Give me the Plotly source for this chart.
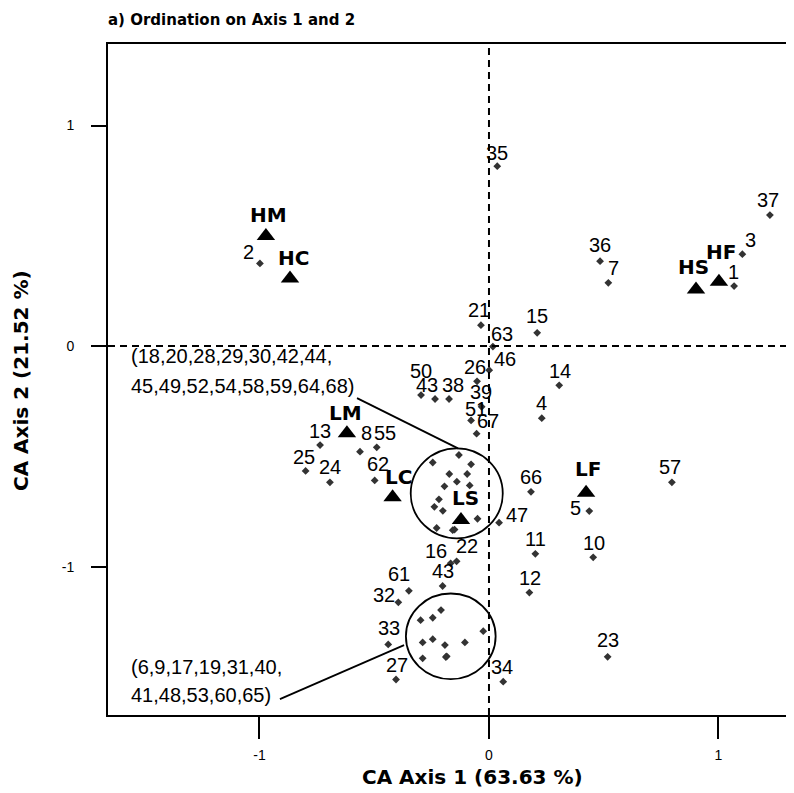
import plotly.graph_objects as go

# ---------------- data ----------------
site_labels = ["1", "2", "3", "4", "5", "7", "8", "10", "11", "12", "13", "14", "15", "16",
               "21", "22", "23", "24", "25", "26", "27", "32", "33", "34", "35", "36", "37",
               "38", "39", "43", "43", "46", "47", "50", "51", "55", "57", "61", "62", "63",
               "66", "67"]
site_x = [1.068, -0.998, 1.104, 0.230, 0.437, 0.520, -0.562, 0.454, 0.202, 0.176, -0.736, 0.306,
          0.210, -0.167, -0.035, -0.141, 0.517, -0.693, -0.799, -0.052, -0.405, -0.395, -0.439,
          0.062, 0.036, 0.484, 1.224, -0.174, -0.032, -0.235, -0.202, 0.001, 0.044, -0.296,
          -0.078, -0.489, 0.797, -0.349, -0.498, 0.017, 0.183, -0.054]
site_y = [0.272, 0.375, 0.417, -0.327, -0.748, 0.287, -0.479, -0.958, -0.942, -1.118, -0.449,
          -0.178, 0.060, -0.985, 0.095, -0.976, -1.409, -0.618, -0.566, -0.160, -1.512, -1.162,
          -1.353, -1.522, 0.816, 0.385, 0.594, -0.240, -0.275, -0.240, -1.088, -0.109, -0.801,
          -0.222, -0.337, -0.459, -0.618, -1.110, -0.609, -0.002, -0.661, -0.397]

# sites inside the upper ring
group_a_ids = [18, 20, 28, 29, 30, 42, 44, 45, 49, 52, 54, 58, 59, 64, 68]
group_a_x = [-0.131, -0.245, -0.078, -0.173, -0.095, -0.140, -0.194, -0.084, -0.218, -0.238,
             -0.201, -0.050, -0.228, -0.158, -0.150]
group_a_y = [-0.494, -0.528, -0.536, -0.580, -0.580, -0.615, -0.636, -0.632, -0.695, -0.729,
             -0.747, -0.783, -0.825, -0.835, -0.832]

# sites inside the lower ring
group_b_ids = [6, 9, 17, 19, 31, 40, 41, 48, 53, 60, 65]
group_b_x = [-0.209, -0.298, -0.245, -0.025, -0.289, -0.245, -0.192, -0.105, -0.289, -0.184, -0.188]
group_b_y = [-1.197, -1.243, -1.232, -1.293, -1.344, -1.329, -1.356, -1.344, -1.416, -1.407, -1.410]

var_labels = ["HM", "HC", "HS", "HF", "LM", "LC", "LS", "LF"]
var_x = [-0.972, -0.867, 0.902, 1.002, -0.619, -0.420, -0.122, 0.423]
var_y = [0.499, 0.307, 0.257, 0.292, -0.395, -0.685, -0.789, -0.665]

tick_vals = [-1, 0, 1]
tick_text = ["-1", "0", "1"]

x_title = "CA Axis 1 (63.63 %)"
y_title = "CA Axis 2 (21.52 %)"
chart_title = "a) Ordination on Axis 1 and 2"

# ---------------- layout helpers (pixel offsets of labels) ----------------
site_label_offsets = [(-1, 12), (-11, 9), (8.5, 12.5), (0, 13.7), (-13.5, 1), (4.7, 12.7),
                      (6.7, 16.7), (1, 12.3), (0, 13), (0.7, 12.6), (0, 12), (0.7, 12.6),
                      (0, 14.4), (-14.7, 10), (-1.7, 12.7), (10, 13), (0, 15), (0, 13),
                      (-1.7, 12.4), (-2, 12), (0.7, 12.6), (-14.3, 5.6), (1, 14.3), (-1.6, 12.7),
                      (-0.6, 11), (0, 14), (-2, 13), (4.3, 12.3), (-0.7, 12.4), (-8.3, 12.3),
                      (0, 12.7), (15.7, 9), (17.7, 6), (0, 22.3), (5, 9), (8.3, 12.3), (-2, 13),
                      (-9.5, 14.7), (3.6, 14.3), (8.7, 10.5), (0, 12.4), (11.6, 10.2)]
var_label_offsets = [(2.3, 18.7), (3.3, 18.3), (-3, 20.3), (1.7, 27.7), (-1.3, 18),
                     (5.6, 17.7), (5, 20), (1.7, 22)]

# the page body adds an 8px margin, so the figure starts at page pixel (8, 8)
OFF = 8
W, H = 786, 785
L, T, B, R = 100, 36, 78, 0
X_RANGE = [-1.660, 1.329]
Y_RANGE = [-1.673, 1.370]

NUM_FONT = dict(family="Liberation Sans, Arial, sans-serif", size=20, color="black")
BOLD_FONT = dict(family="DejaVu Sans, sans-serif", size=20, color="black", weight="bold")
TITLE_FONT = dict(family="DejaVu Sans, sans-serif", size=20, color="black", weight="bold")

fig = go.Figure()

all_px = site_x + group_a_x + group_b_x
all_py = site_y + group_a_y + group_b_y
fig.add_trace(go.Scatter(x=all_px, y=all_py, mode="markers",
                         marker=dict(symbol="diamond", size=6, color="#333333"),
                         hoverinfo="skip", showlegend=False))
fig.add_trace(go.Scatter(x=var_x, y=var_y, mode="markers",
                         marker=dict(symbol="triangle-up", size=16, color="black"),
                         hoverinfo="skip", showlegend=False))

annotations = []
for lab, x, y, (dx, dy) in zip(site_labels, site_x, site_y, site_label_offsets):
    annotations.append(dict(x=x, y=y, xref="x", yref="y", text=lab, showarrow=False,
                            xshift=dx, yshift=dy + 2, font=NUM_FONT,
                            xanchor="center", yanchor="middle"))
for lab, x, y, (dx, dy) in zip(var_labels, var_x, var_y, var_label_offsets):
    annotations.append(dict(x=x, y=y, xref="x", yref="y", text=lab, showarrow=False,
                            xshift=dx, yshift=dy + 2, font=BOLD_FONT,
                            xanchor="center", yanchor="middle"))


def group_lines(ids, split):
    a = ",".join(str(i) for i in ids[:split])
    b = ",".join(str(i) for i in ids[split:])
    return "(" + a + ",", b + ")"


a1, a2 = group_lines(group_a_ids, 7)
b1, b2 = group_lines(group_b_ids, 6)

PLOT_W = W - L - R
PLOT_H = H - T - B


def px_x(px):  # page pixel -> paper x
    return (px - OFF - L) / PLOT_W


def px_y(py):  # page pixel -> paper y
    return 1 - (py - OFF - T) / PLOT_H


for txt, py in [(a1, 356), (a2, 386), (b1, 667), (b2, 695)]:
    annotations.append(dict(x=px_x(129), y=px_y(py), xref="paper", yref="paper", text=txt,
                            showarrow=False, xanchor="left", yanchor="middle", font=NUM_FONT))

annotations.append(dict(x=px_x(472), y=px_y(777), xref="paper", yref="paper", text=x_title,
                        showarrow=False, xanchor="center", yanchor="middle", font=TITLE_FONT))
annotations.append(dict(x=px_x(21), y=px_y(381), xref="paper", yref="paper", text=y_title,
                        showarrow=False, xanchor="center", yanchor="middle", textangle=-90,
                        font=TITLE_FONT))

shapes = [
    # dashed origin lines
    dict(type="line", xref="x", yref="paper", x0=0, x1=0, y0=0, y1=1,
         line=dict(color="black", width=2, dash="7px,5px")),
    dict(type="line", xref="paper", yref="y", x0=0, x1=1, y0=0, y1=0,
         line=dict(color="black", width=2, dash="7px,5px")),
    # rings around dense groups
    dict(type="circle", xref="x", yref="y", x0=-0.341, x1=0.060, y0=-0.872, y1=-0.464,
         line=dict(color="black", width=1.8)),
    dict(type="circle", xref="x", yref="y", x0=-0.362, x1=0.029, y0=-1.510, y1=-1.122,
         line=dict(color="black", width=1.8)),
    # leader lines
    dict(type="line", xref="x", yref="y", x0=-0.575, y0=-0.236, x1=-0.135, y1=-0.464,
         line=dict(color="black", width=1.8)),
    dict(type="line", xref="x", yref="y", x0=-0.911, y0=-1.601, x1=-0.370, y1=-1.356,
         line=dict(color="black", width=1.8)),
]

fig.update_layout(
    width=W, height=H,
    margin=dict(l=L, r=R, t=T, b=B, pad=0),
    paper_bgcolor="white", plot_bgcolor="white",
    title=dict(text="<b>" + chart_title + "</b>", x=(108 - OFF) / W, xanchor="left",
               y=1 - (20 - OFF) / H, yanchor="middle", xref="container", yref="container",
               font=dict(family="DejaVu Sans, sans-serif", size=15, color="black")),
    xaxis=dict(range=X_RANGE, tickvals=tick_vals, ticktext=tick_text, showgrid=False,
               zeroline=False, showline=True, linecolor="black", linewidth=2, mirror=True,
               ticks="outside", ticklen=22, tickwidth=1.5, tickcolor="black",
               tickfont=dict(family="Liberation Sans, Arial, sans-serif", size=14,
                             color="black"), ticklabelstandoff=4),
    yaxis=dict(range=Y_RANGE, tickvals=tick_vals, ticktext=tick_text, showgrid=False,
               zeroline=False, showline=True, linecolor="black", linewidth=2, mirror=False,
               ticks="outside", ticklen=15, tickwidth=1.5, tickcolor="black",
               tickfont=dict(family="Liberation Sans, Arial, sans-serif", size=14,
                             color="black"), ticklabelstandoff=14),
    annotations=annotations,
    shapes=shapes,
)

fig.write_html("out.html")
